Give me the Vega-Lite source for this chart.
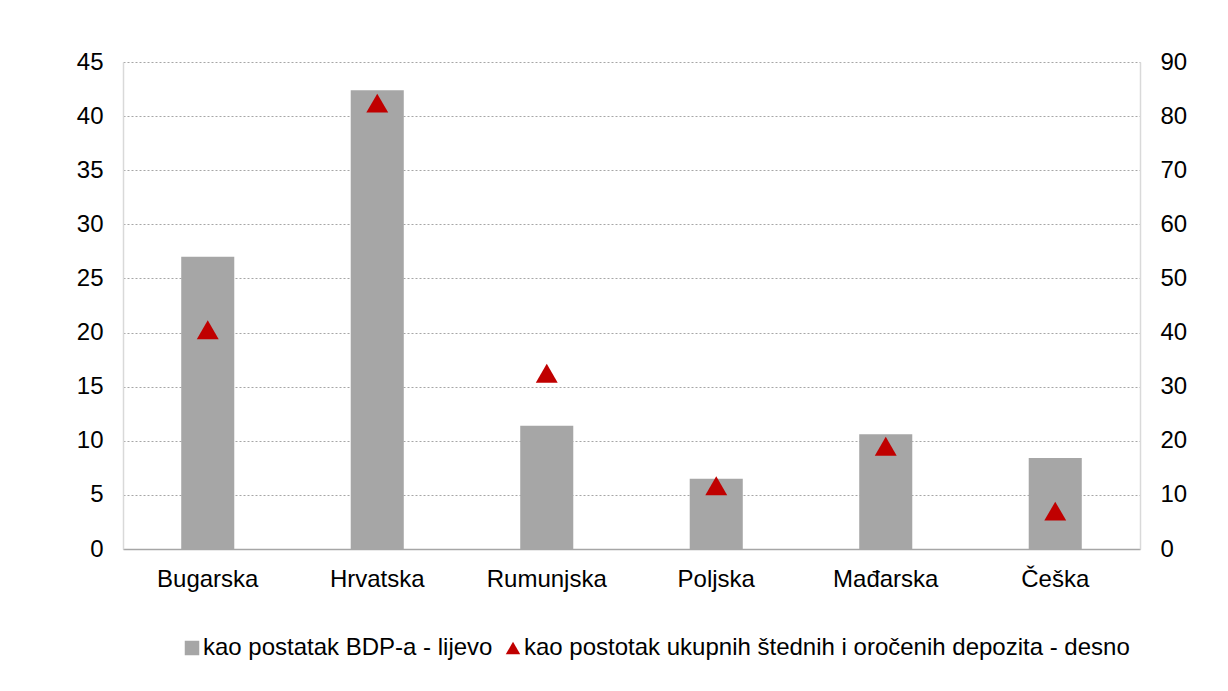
{
  "$schema": "https://vega.github.io/schema/vega-lite/v6.json",
  "width": 1017,
  "height": 487,
  "autosize": {"type": "none"},
  "padding": {"left": 123, "top": 62, "right": 88, "bottom": 142},
  "background": "white",
  "config": {
    "view": {"stroke": null},
    "font": "Liberation Sans",
    "legend": {
      "orient": "none",
      "direction": "horizontal",
      "labelFontSize": 24,
      "labelFont": "Liberation Sans",
      "labelColor": "#000000",
      "labelLimit": 0,
      "symbolSize": 210,
      "symbolStrokeWidth": 0,
      "labelOffset": -1,
      "columnPadding": 8,
      "padding": 0
    }
  },
  "data": {
    "values": [
      {"country": "Bugarska", "series": "kao postatak BDP-a - lijevo", "value": 27.0},
      {"country": "Hrvatska", "series": "kao postatak BDP-a - lijevo", "value": 42.4},
      {"country": "Rumunjska", "series": "kao postatak BDP-a - lijevo", "value": 11.4},
      {"country": "Poljska", "series": "kao postatak BDP-a - lijevo", "value": 6.5},
      {"country": "Mađarska", "series": "kao postatak BDP-a - lijevo", "value": 10.6},
      {"country": "Češka", "series": "kao postatak BDP-a - lijevo", "value": 8.4},
      {"country": "Bugarska", "series": "kao postotak ukupnih štednih i oročenih depozita - desno", "value": 40.5},
      {"country": "Hrvatska", "series": "kao postotak ukupnih štednih i oročenih depozita - desno", "value": 82.4},
      {"country": "Rumunjska", "series": "kao postotak ukupnih štednih i oročenih depozita - desno", "value": 32.5},
      {"country": "Poljska", "series": "kao postotak ukupnih štednih i oročenih depozita - desno", "value": 11.7},
      {"country": "Mađarska", "series": "kao postotak ukupnih štednih i oročenih depozita - desno", "value": 19.0},
      {"country": "Češka", "series": "kao postotak ukupnih štednih i oročenih depozita - desno", "value": 7.0}
    ]
  },
  "encoding": {
    "x": {
      "field": "country",
      "type": "nominal",
      "sort": ["Bugarska", "Hrvatska", "Rumunjska", "Poljska", "Mađarska", "Češka"],
      "scale": {"paddingInner": 0.687, "paddingOuter": 0.3435},
      "axis": {
        "title": null,
        "labelAngle": 0,
        "labelFontSize": 24,
        "labelFont": "Liberation Sans",
        "labelColor": "#000000",
        "ticks": false,
        "tickSize": 0,
        "labelPadding": 18,
        "domainColor": "#a6a6a6",
        "domainWidth": 1.5
      }
    }
  },
  "layer": [
    {
      "transform": [{"filter": "datum.series === 'kao postatak BDP-a - lijevo'"}],
      "mark": {"type": "bar", "color": "#a6a6a6"},
      "encoding": {
        "y": {
          "field": "value",
          "type": "quantitative",
          "scale": {"domain": [0, 45], "nice": false},
          "axis": {
            "title": null,
            "orient": "left",
            "values": [0, 5, 10, 15, 20, 25, 30, 35, 40, 45],
            "labelFontSize": 24,
            "labelFont": "Liberation Sans",
            "labelColor": "#000000",
            "ticks": false,
            "tickSize": 0,
            "labelPadding": 20,
            "domainColor": "#d9d9d9",
            "domainWidth": 1.5,
            "grid": true,
            "gridColor": "#a6a6a6",
            "gridDash": [2, 2],
            "gridWidth": 1
          }
        },
        "color": {
          "field": "series",
          "type": "nominal",
          "scale": {
            "domain": ["kao postatak BDP-a - lijevo", "kao postotak ukupnih štednih i oročenih depozita - desno"],
            "range": ["#a6a6a6", "#c00000"]
          },
          "legend": {"title": null, "orient": "none", "legendX": 57, "legendY": 574}
        }
      }
    },
    {
      "transform": [{"filter": "datum.series === 'kao postotak ukupnih štednih i oročenih depozita - desno'"}],
      "mark": {"type": "point", "filled": true, "size": 480, "opacity": 1},
      "encoding": {
        "y": {
          "field": "value",
          "type": "quantitative",
          "scale": {"domain": [0, 90], "nice": false},
          "axis": {
            "title": null,
            "orient": "right",
            "values": [0, 10, 20, 30, 40, 50, 60, 70, 80, 90],
            "labelFontSize": 24,
            "labelFont": "Liberation Sans",
            "labelColor": "#000000",
            "ticks": false,
            "tickSize": 0,
            "labelPadding": 20,
            "domainColor": "#d9d9d9",
            "domainWidth": 1.5,
            "grid": false
          }
        },
        "color": {
          "field": "series",
          "type": "nominal",
          "scale": {
            "domain": ["kao postatak BDP-a - lijevo", "kao postotak ukupnih štednih i oročenih depozita - desno"],
            "range": ["#a6a6a6", "#c00000"]
          },
          "legend": {"title": null, "orient": "none", "legendX": 57, "legendY": 574}
        },
        "shape": {
          "field": "series",
          "type": "nominal",
          "scale": {
            "domain": ["kao postatak BDP-a - lijevo", "kao postotak ukupnih štednih i oročenih depozita - desno"],
            "range": ["square", "triangle-up"]
          },
          "legend": {"title": null, "orient": "none", "legendX": 57, "legendY": 574}
        }
      }
    }
  ],
  "resolve": {"scale": {"y": "independent"}}
}
